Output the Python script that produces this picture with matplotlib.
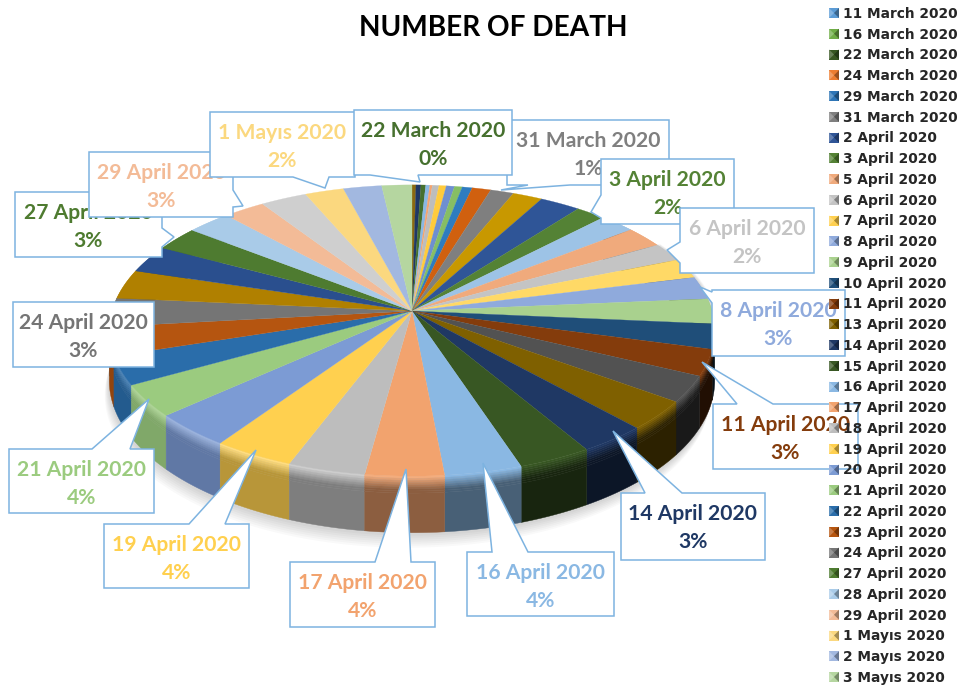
import numpy as np
import matplotlib
matplotlib.use('Agg')
import matplotlib.pyplot as plt
from matplotlib.colors import to_rgb

# slices clockwise from the top of the pie, share of deaths in %
dates = ['11 March 2020', '16 March 2020', '22 March 2020', '23 March 2020', '24 March 2020',
         '25 March 2020', '26 March 2020', '27 March 2020', '28 March 2020', '29 March 2020',
         '30 March 2020', '31 March 2020', '1 April 2020', '2 April 2020', '3 April 2020',
         '4 April 2020', '5 April 2020', '6 April 2020', '7 April 2020', '8 April 2020',
         '9 April 2020', '10 April 2020', '11 April 2020', '12 April 2020', '13 April 2020',
         '14 April 2020', '15 April 2020', '16 April 2020', '17 April 2020', '18 April 2020',
         '19 April 2020', '20 April 2020', '21 April 2020', '22 April 2020', '23 April 2020',
         '24 April 2020', '25 April 2020', '26 April 2020', '27 April 2020', '28 April 2020',
         '29 April 2020', '30 April 2020', '1 Mayıs 2020', '2 Mayıs 2020', '3 Mayıs 2020']
values = [0.24, 0.30, 0.29, 0.25, 0.15, 0.40, 0.44, 0.50, 0.47, 0.61,
          1.14, 1.42, 1.81, 2.47, 1.81, 2.17, 2.36, 2.06, 2.22, 2.52,
          2.79, 2.75, 2.89, 2.89, 3.25, 3.19, 3.47, 3.64, 3.69, 3.64,
          3.81, 3.78, 3.53, 3.17, 3.17, 3.17, 3.25, 3.06, 2.69, 2.67,
          2.53, 2.83, 2.36, 2.33, 1.83]
colors = ['#8A6A10', '#1F3864', '#46702E', '#8AB8E3', '#F4A46F', '#BDBDBD', '#FFCB3D', '#6E8FD0', '#86BE64',
          '#2E7CBF', '#D0600F', '#7F7F7F', '#C89800', '#2F5597', '#548235', '#9DC3E6', '#F0AA7C', '#C4C4C4',
          '#FFD966', '#8FAADC', '#A9D18E', '#1F4E79', '#843C0C', '#525252', '#7F6000', '#1F3864', '#385723',
          '#8AB8E3', '#F2A36E', '#BDBDBD', '#FFD04F', '#7C9BD4', '#9BCB7F', '#2A6DAA', '#B55510', '#757575',
          '#B08000', '#2A4F8E', '#4E7B30', '#A9CBE8', '#F3BB97', '#CFCFCF', '#FBD87F', '#A2B8E0', '#B5D6A0']

legend_labels = ['11 March 2020', '16 March 2020', '22 March 2020', '24 March 2020', '29 March 2020',
                 '31 March 2020', '2 April 2020', '3 April 2020', '5 April 2020', '6 April 2020',
                 '7 April 2020', '8 April 2020', '9 April 2020', '10 April 2020', '11 April 2020',
                 '13 April 2020', '14 April 2020', '15 April 2020', '16 April 2020', '17 April 2020',
                 '18 April 2020', '19 April 2020', '20 April 2020', '21 April 2020', '22 April 2020',
                 '23 April 2020', '24 April 2020', '27 April 2020', '28 April 2020', '29 April 2020',
                 '1 Mayıs 2020', '2 Mayıs 2020', '3 Mayıs 2020']
legend_colors = ['#5B9BD5', '#70AD47', '#385723', '#ED7D31', '#2E75B6', '#7F7F7F', '#2F5597', '#548235',
                 '#F0AA7C', '#C4C4C4', '#FFD050', '#8FAADC', '#A9D18E', '#1F4E79', '#843C0C', '#7F6000',
                 '#1F3864', '#385723', '#8AB8E3', '#F2A36E', '#BDBDBD', '#FFD04F', '#7C9BD4', '#9BCB7F',
                 '#2A6DAA', '#B55510', '#757575', '#4E7B30', '#A9CBE8', '#F3BB97', '#FBD87F', '#A2B8E0', '#B5D6A0']

# callouts: date, box (x0, y0, x1, y1), side of the pointer, base of it, tip
callouts = [
    ('24 April 2020', (13, 302, 154, 367), None, None, None),
    ('27 April 2020', (15, 192, 162, 257), 'right', (228, 247), (174, 237)),
    ('29 April 2020', (89, 152, 233, 217), 'right', (190, 207), (243, 206)),
    ('1 Mayıs 2020', (210, 112, 355, 177), 'bottom', (293, 329), (325, 188)),
    ('31 March 2020', (507, 120, 669, 185), 'bottom', (528, 570), (501, 190)),
    ('22 March 2020', (354, 110, 512, 175), 'bottom', (370, 418), (420, 182)),
    ('3 April 2020', (601, 159, 734, 224), 'left', (195, 218), (591, 212)),
    ('6 April 2020', (680, 208, 814, 273), 'left', (242, 263), (667, 250)),
    ('8 April 2020', (712, 290, 845, 356), 'left', (292, 303), (700, 287)),
    ('11 April 2020', (713, 404, 858, 469), 'top', (737, 773), (702, 362)),
    ('14 April 2020', (621, 493, 765, 560), 'top', (645, 682), (613, 431)),
    ('16 April 2020', (467, 552, 614, 616), 'top', (492, 528), (483, 463)),
    ('17 April 2020', (290, 562, 435, 627), 'top', (375, 411), (406, 469)),
    ('19 April 2020', (104, 524, 249, 588), 'top', (189, 225), (256, 450)),
    ('21 April 2020', (9, 449, 154, 513), 'top', (92, 130), (149, 399)),
]

cx, cy, rx, ry, k, depth = 412, 311, 300, 143, 0.134, 49


def proj(theta):
    # theta in degrees clockwise from the back of the pie, seen in perspective
    t = np.radians(theta)
    s = 1 / (1 + k * np.cos(t))
    return cx + rx * np.sin(t) * s, cy - ry * np.cos(t) * s, s


def mix(c1, c2, a):
    return tuple((1 - a) * np.array(c1) + a * np.array(c2))


fig = plt.figure(figsize=(9.63, 6.87), dpi=100)
ax = fig.add_axes([0, 0, 1, 1])
ax.set_xlim(0, 963)
ax.set_ylim(687, 0)
ax.axis('off')

edges = np.concatenate([[0], np.cumsum(values)]) / np.sum(values) * 360

# soft shadow below the pie
tt = np.linspace(60, 300, 200)
xs, ys, ss = proj(tt)
for d in range(3, 17, 2):
    ax.fill(np.concatenate([xs + d * 0.3, xs[::-1] - d * 0.3]),
            np.concatenate([ys, (ys + depth * ss + d)[::-1]]),
            color='black', alpha=0.022, lw=0, zorder=1)

# side of the pie, darker towards the right, highlight on the top edge
bands = list(np.linspace(0, 0.3, 9)) + [1]
order = sorted(range(len(values)), key=lambda i: -abs((edges[i] + edges[i + 1]) / 2 - 180))
for i in order:
    a, b = edges[i], edges[i + 1]
    if b < 50 or a > 310:
        continue
    face = to_rgb(colors[i])
    mid = (a + b) / 2
    shade = np.interp(mid, [100, 120, 140, 155, 168, 180, 195, 215, 240, 300],
                      [0.2, 0.3, 0.38, 0.42, 0.52, 0.57, 0.67, 0.75, 0.85, 0.7])
    glow = np.interp(mid, [170, 200, 250], [0, 0.3, 0.15])
    side = mix((0, 0, 0), face, shade)
    top = mix(face, (1, 1, 1), glow)
    ts = np.linspace(a, b, int(b - a) * 2 + 2)
    x, y, s = proj(ts)
    for f0, f1 in zip(bands[:-1], bands[1:]):
        col = mix(top, side, min(1, f0 / 0.22))
        ax.fill(np.concatenate([x, x[::-1]]),
                np.concatenate([y + f0 * depth * s, (y + f1 * depth * s)[::-1]]),
                color=col, lw=0.3, zorder=2)

# top face
for i in range(len(values)):
    ts = np.linspace(edges[i], edges[i + 1], int(edges[i + 1] - edges[i]) * 2 + 2)
    x, y, _ = proj(ts)
    ax.fill(np.concatenate([[cx], x]), np.concatenate([[cy], y]), color=colors[i], lw=0.2, zorder=3)

ax.text(493, 28, 'NUMBER OF DEATH', ha='center', va='center', fontsize=20.2, fontweight='bold',
        family='Lato', color='black', zorder=10)

# data labels with their callouts
line_col = '#7DB3E0'
z = 4
for date, box, side, base, tip in callouts:
    x0, y0, x1, y1 = box
    if side == 'bottom':
        px = [x0, x1, x1, base[1], tip[0], base[0], x0]
        py = [y0, y0, y1, y1, tip[1], y1, y1]
    elif side == 'top':
        px = [x0, base[0], tip[0], base[1], x1, x1, x0]
        py = [y0, y0, tip[1], y0, y0, y1, y1]
    elif side == 'right':
        px = [x0, x1, x1, tip[0], x1, x1, x0]
        py = [y0, y0, base[0], tip[1], base[1], y1, y1]
    elif side == 'left':
        px = [x0, x1, x1, x0, x0, tip[0], x0]
        py = [y0, y0, y1, y1, base[1], tip[1], base[0]]
    else:
        px = [x0, x1, x1, x0]
        py = [y0, y0, y1, y1]
    ax.fill(px, py, facecolor='white', edgecolor=line_col, lw=1.1, joinstyle='miter', zorder=z)
    i = dates.index(date)
    ax.text((x0 + x1) / 2, y0 + 21, date, ha='center', va='center', fontsize=15.2, fontweight='bold',
            family='Lato', color=colors[i], zorder=z + 0.5)
    ax.text((x0 + x1) / 2, y0 + 49, '%d%%' % round(values[i]), ha='center', va='center', fontsize=15.2,
            fontweight='bold', family='Lato', color=colors[i], zorder=z + 0.5)
    z += 1

# legend
for n, (lab, col) in enumerate(zip(legend_labels, legend_colors)):
    y = 13 + n * 20.75
    c = to_rgb(col)
    ax.fill([829, 839, 839, 829], [y - 5, y - 5, y + 5, y + 5], color=c, lw=0, zorder=40)
    ax.fill([829, 834, 829], [y - 5, y, y + 5], color=mix(c, (1, 1, 1), 0.25), lw=0, zorder=41)
    ax.fill([839, 834, 839], [y - 5, y, y + 5], color=mix(c, (0, 0, 0), 0.35), lw=0, zorder=41)
    ax.text(843, y + 0.8, lab, ha='left', va='center', fontsize=9.95, fontweight='bold', family='DejaVu Sans',
            color='#262626', zorder=42)

fig.savefig('out.png', dpi=100)
